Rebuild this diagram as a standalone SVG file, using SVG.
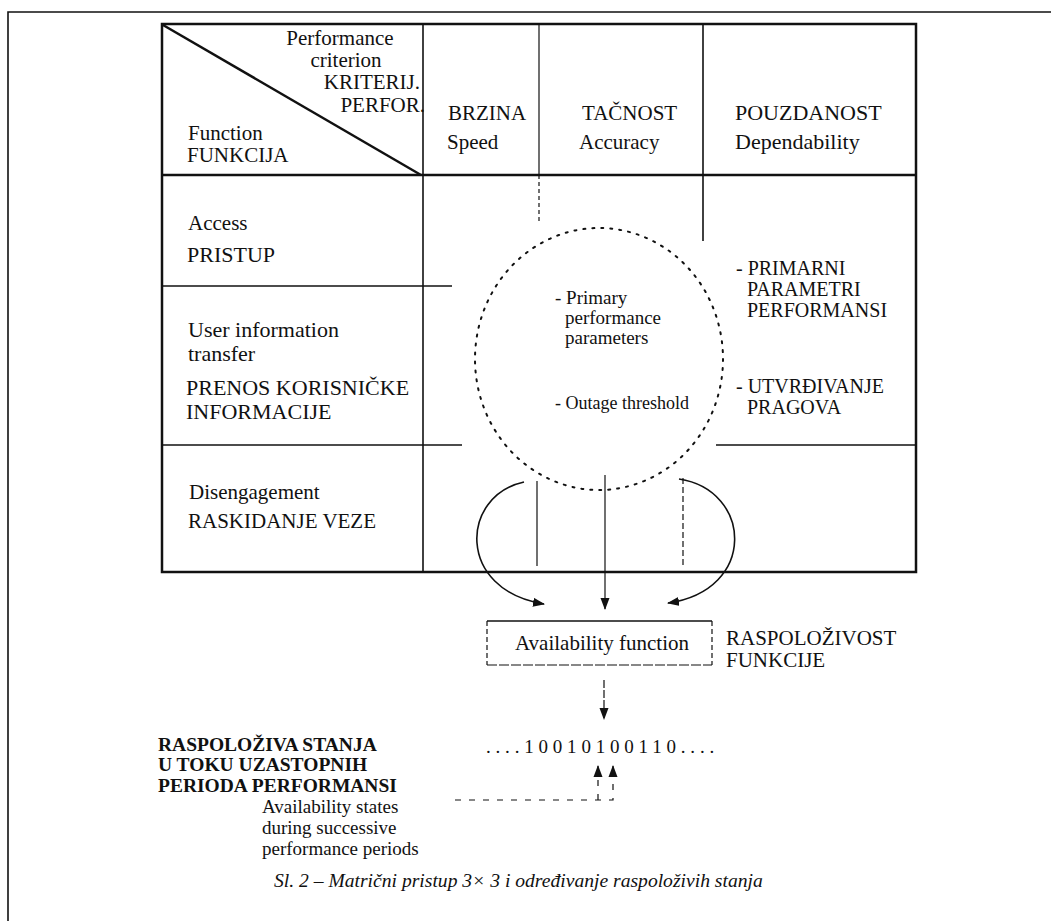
<svg xmlns="http://www.w3.org/2000/svg" width="1051" height="921" viewBox="0 0 1051 921">
<defs>
<marker id="ah" markerWidth="12" markerHeight="10" refX="11" refY="5" orient="auto" markerUnits="userSpaceOnUse">
<path d="M0,0.5 L12,5 L0,9.5 z" fill="#111"/>
</marker>
<style>
.t{font-family:"Liberation Serif","Times New Roman",serif;font-size:21px;fill:#111}
.l{font-size:22px}
.s{font-size:19px}
.r{font-size:20px}
.b{font-weight:bold}
.i{font-style:italic}
.ln{stroke:#111;fill:none}
.thk{stroke-width:2.5}
.med{stroke-width:1.6}
.thn{stroke-width:1.2}
.dot{stroke-dasharray:2 7;stroke-width:2;stroke-linecap:round}
</style>
</defs>
<rect width="1051" height="921" fill="#fff"/>
<!-- outer frame -->
<path class="ln" d="M8,940 V12 H1060" stroke-width="1.6"/>

<g id="table">
<rect class="ln thk" x="162" y="24" width="754" height="548"/>
<line class="ln thk" x1="163" y1="25" x2="421" y2="175"/>
<line class="ln thk" x1="162" y1="175" x2="916" y2="175"/>
<line class="ln med" x1="423" y1="24" x2="423" y2="572"/>
<line class="ln thn" x1="539" y1="24" x2="539" y2="175"/>
<line class="ln thn" x1="539" y1="175" x2="539" y2="222" style="stroke-dasharray:4 3"/>
<line class="ln med" x1="703" y1="24" x2="703" y2="241"/>
<line class="ln med" x1="162" y1="286" x2="452" y2="286"/>
<line class="ln med" x1="162" y1="445" x2="462" y2="445"/>
<line class="ln med" x1="716" y1="445" x2="916" y2="445"/>
</g>

<g id="header">
<text class="t" x="340" y="45" text-anchor="middle">Performance</text>
<text class="t" x="346" y="67" text-anchor="middle">criterion</text>
<text class="t" x="420" y="89" text-anchor="end">KRITERIJ.</text>
<text class="t" x="425" y="112" text-anchor="end">PERFOR.</text>
<text class="t" x="188" y="140">Function</text>
<text class="t" x="187" y="162">FUNKCIJA</text>
<text class="t" x="448" y="120">BRZINA</text>
<text class="t" x="447" y="149">Speed</text>
<text class="t" x="582" y="120">TAČNOST</text>
<text class="t" x="579" y="149">Accuracy</text>
<text class="t l" x="735" y="120">POUZDANOST</text>
<text class="t l" x="735" y="149">Dependability</text>
</g>

<g id="row-access">
<text class="t" x="188" y="230">Access</text>
<text class="t l" x="187" y="262">PRISTUP</text>
</g>
<g id="row-transfer">
<text class="t l" x="188" y="337">User information</text>
<text class="t l" x="188" y="361">transfer</text>
<text class="t l" x="186" y="395">PRENOS KORISNIČKE</text>
<text class="t l" x="186" y="419">INFORMACIJE</text>
</g>
<g id="row-disengagement">
<text class="t" x="189" y="499">Disengagement</text>
<text class="t" x="188" y="528">RASKIDANJE VEZE</text>
</g>

<g id="ellipse">
<ellipse class="ln dot" cx="599" cy="359" rx="124" ry="131"/>
<text class="t s" x="555" y="304">- Primary</text>
<text class="t s" x="565" y="324">performance</text>
<text class="t s" x="565" y="344">parameters</text>
<text class="t" x="555" y="409" style="font-size:18px">- Outage threshold</text>
</g>

<g id="right-notes">
<text class="t r" x="736" y="275">- PRIMARNI</text>
<text class="t r" x="747" y="296">PARAMETRI</text>
<text class="t r" x="747" y="317">PERFORMANSI</text>
<text class="t r" x="736" y="393">- UTVRĐIVANJE</text>
<text class="t r" x="747" y="414">PRAGOVA</text>
</g>

<g id="connectors">
<line class="ln thn" x1="537" y1="481" x2="537" y2="566"/>
<line class="ln thn" x1="605" y1="475" x2="605" y2="609" marker-end="url(#ah)"/>
<line class="ln thn" x1="683" y1="478" x2="683" y2="566" style="stroke-dasharray:6 3"/>
<path class="ln med" d="M524,482 C460,496 456,590 544,604" marker-end="url(#ah)"/>
<path class="ln med" d="M679,479 C752,490 758,590 668,603" marker-end="url(#ah)"/>
<line class="ln thn" x1="604" y1="680" x2="604" y2="719" style="stroke-dasharray:8 2" marker-end="url(#ah)"/>
<path class="ln thn" d="M455,800 H613 V771" style="stroke-dasharray:6 8"/>
<line class="ln thn" x1="598" y1="800" x2="598" y2="771" style="stroke-dasharray:6 8"/>
<line class="ln thn" x1="598" y1="772" x2="598" y2="766" marker-end="url(#ah)"/>
<line class="ln thn" x1="613" y1="772" x2="613" y2="766" marker-end="url(#ah)"/>
</g>

<g id="availability-function">
<line class="ln med" x1="487" y1="621" x2="712" y2="621"/>
<line class="ln thn" x1="487" y1="665" x2="712" y2="665" style="stroke-dasharray:10 2"/>
<line class="ln thn" x1="487" y1="621" x2="487" y2="665" style="stroke-dasharray:5 3"/>
<line class="ln thn" x1="712" y1="621" x2="712" y2="665" style="stroke-dasharray:5 3"/>
<text class="t" x="602" y="650" text-anchor="middle">Availability function</text>
<text class="t" x="726" y="645">RASPOLOŽIVOST</text>
<text class="t" x="726" y="667">FUNKCIJE</text>
</g>

<g id="states">
<text class="t s" x="486" y="753" style="letter-spacing:4.8px">....10010100110....</text>
<text class="t b" x="158" y="751" style="font-size:19.5px">RASPOLOŽIVA STANJA</text>
<text class="t b" x="158" y="771" style="font-size:19.5px">U TOKU UZASTOPNIH</text>
<text class="t b" x="158" y="792" style="font-size:19.5px">PERIODA PERFORMANSI</text>
<text class="t s" x="262" y="813">Availability states</text>
<text class="t s" x="262" y="834">during successive</text>
<text class="t s" x="262" y="855">performance periods</text>
</g>

<text class="t i" x="274" y="887" style="font-size:19.6px">Sl. 2 – Matrični pristup 3× 3 i određivanje raspoloživih stanja</text>
</svg>
